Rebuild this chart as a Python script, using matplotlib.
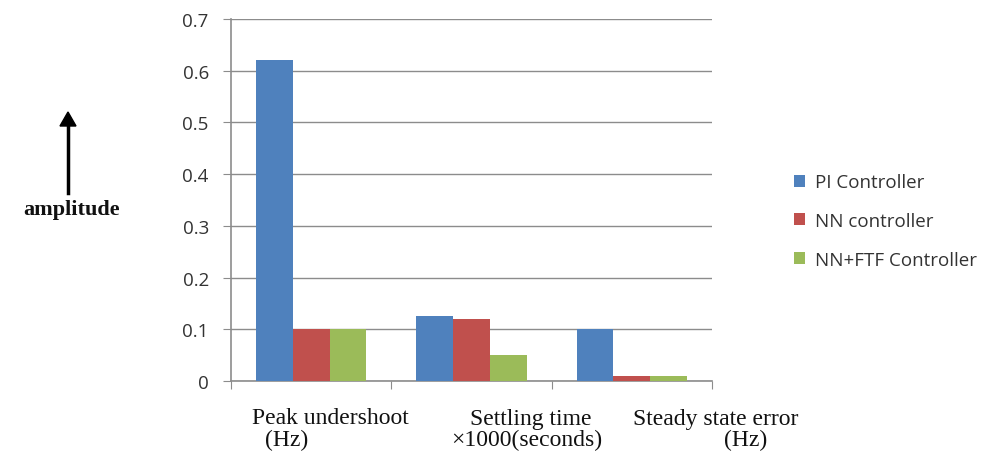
import numpy as np
import matplotlib.pyplot as plt

# Controller comparison data
categories = ['Peak undershoot', 'Settling time', 'Steady state error']
cat_line2 = ['(Hz)', '\u00d71000(seconds)', '(Hz)']
series_names = ['PI Controller', 'NN controller', 'NN+FTF Controller']
pi_values = [0.62, 0.125, 0.10]
nn_values = [0.10, 0.12, 0.01]
nn_ftf_values = [0.10, 0.05, 0.01]
y_ticks = [0, 0.1, 0.2, 0.3, 0.4, 0.5, 0.6, 0.7]

colors = ['#4F81BD', '#C0504D', '#9BBB59']
grid_color = '#8C8C8C'

fig = plt.figure(figsize=(9.96, 4.52), dpi=100)
ax = fig.add_axes([231 / 996, 1 - 382 / 452, (712 - 231) / 996, (382 - 20) / 452])

x = np.arange(len(categories))
width = 0.23
for i, (vals, name) in enumerate(zip([pi_values, nn_values, nn_ftf_values], series_names)):
    ax.bar(x + (i - 1) * width, vals, width, color=colors[i], label=name, zorder=3)

ax.set_xlim(-0.5, len(categories) - 0.5)
ax.set_ylim(0, 0.7)
ax.set_yticks(y_ticks)
ax.set_yticklabels(['0'] + [f'{v:.1f}' for v in y_ticks[1:]],
                   fontsize=13.5, color='#333333', family='Open Sans')
ax.yaxis.grid(True, color=grid_color, linewidth=1.0, zorder=0)
ax.tick_params(axis='y', length=6, color=grid_color, pad=10)

# category boundary ticks on the x axis
ax.set_xticks(np.arange(len(categories) + 1) - 0.5)
ax.set_xticklabels([])
ax.tick_params(axis='x', length=6, color=grid_color, direction='out')

for side in ['top', 'right']:
    ax.spines[side].set_visible(False)
for side in ['left', 'bottom']:
    ax.spines[side].set_color(grid_color)
    ax.spines[side].set_linewidth(1.2)

# category names written below the axis
serif = 'Liberation Serif'
line1_x = [330, 531, 716]
line2_x = [287, 527, 746]
for i in range(len(categories)):
    fig.text(line1_x[i] / 996, 1 - 419 / 452, categories[i], ha='center', va='center',
             fontsize=17, family=serif, color='#111111')
    fig.text(line2_x[i] / 996, 1 - 440 / 452, cat_line2[i], ha='center', va='center',
             fontsize=17, family=serif, color='#111111')

# y label with an upward arrow
fig.text(72 / 996, 1 - 210 / 452, 'amplitude', ha='center', va='center',
         fontsize=16, family=serif, fontweight='bold', color='#111111')
fig.add_artist(plt.Line2D([68 / 996, 68 / 996], [1 - 194 / 452, 1 - 125 / 452],
                          color='black', linewidth=2.5))
fig.patches.append(plt.Polygon([[60 / 996, 1 - 127 / 452], [76 / 996, 1 - 127 / 452],
                                [68 / 996, 1 - 113 / 452]], closed=True,
                               transform=fig.transFigure, color='black', figure=fig))

leg = ax.legend(loc='center left', bbox_to_anchor=(777 / 996, 1 - 222 / 452),
                bbox_transform=fig.transFigure, frameon=False,
                prop={'family': 'Open Sans', 'size': 13.5}, labelspacing=1.1,
                handlelength=0.6, handleheight=0.6, handletextpad=0.5)
for t in leg.get_texts():
    t.set_color('#333333')

fig.savefig('out.png', dpi=100)
